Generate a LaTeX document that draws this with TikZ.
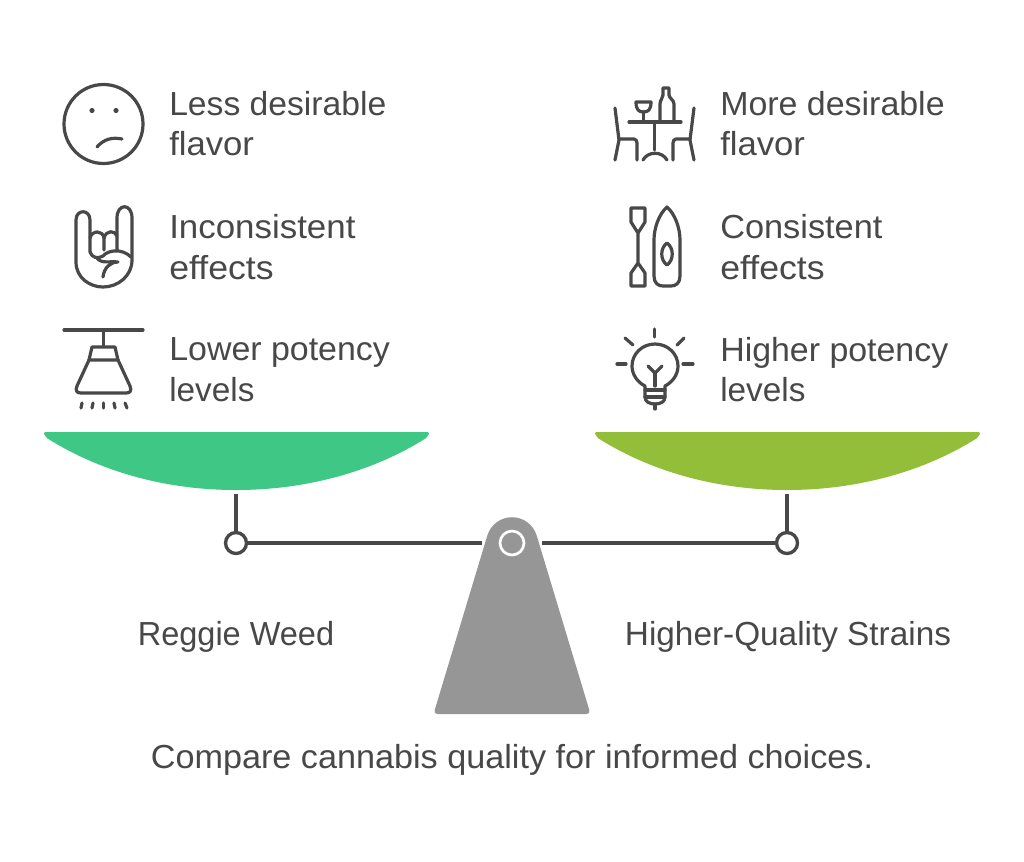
\documentclass[tikz,border=0pt]{standalone}
\usepackage{fontspec}
\setmainfont{Liberation Sans}
\definecolor{ink}{HTML}{484848}
\definecolor{leftpan}{HTML}{3EC785}
\definecolor{rightpan}{HTML}{93BE3A}
\definecolor{basegrey}{HTML}{969696}
\newcommand{\widen}[2]{\scalebox{#1}[1]{#2}}
\tikzset{
  px/.style={x=0.75pt,y=-0.75pt},
  lbl/.style={font=\fontsize{25pt}{30.6pt}\selectfont,text=ink,align=left,anchor=west,inner sep=0pt},
  captxt/.style={font=\fontsize{25pt}{30pt}\selectfont,text=ink,inner sep=0pt},
  ic/.style={draw=ink,line width=2.4pt,line cap=round,line join=round,fill=none},
  beam/.style={draw=ink,line width=2.5pt},
  pivot/.style={circle,draw=ink,line width=2.5pt,fill=white,minimum size=15.75pt,inner sep=0pt},
  panl/.style={fill=leftpan,draw=leftpan,line width=2.25pt,line join=round},
  panr/.style={fill=rightpan,draw=rightpan,line width=2.25pt,line join=round}
}
\begin{document}
\begin{tikzpicture}[px]
\useasboundingbox (0,0) rectangle (1024,861);
\fill[white] (0,0) rectangle (1024,861);
% labels
\node[lbl] (t1) at (169,123.5) {\widen{1.01}{Less desirable}\\\widen{1.04}{flavor}};
\node[lbl] (t2) at (169,247) {\widen{1.047}{Inconsistent}\\\widen{1.07}{effects}};
\node[lbl] (t3) at (169,369.5) {\widen{1.018}{Lower potency}\\levels};
\node[lbl] (t4) at (720,123.5) {\widen{1.018}{More desirable}\\\widen{1.04}{flavor}};
\node[lbl] (t5) at (720,247) {\widen{1.03}{Consistent}\\\widen{1.07}{effects}};
\node[lbl] (t6) at (720,369.5) {\widen{1.017}{Higher potency}\\levels};
\node[captxt] (c1) at (236,637) {\widen{0.975}{Reggie Weed}};
\node[captxt] (c2) at (788,637) {Higher-Quality Strains};
\node[captxt] (c3) at (512,760) {\widen{1.026}{Compare cannabis quality for informed choices.}};
% pans
\draw[panl] (45.5,433.5) -- (427.5,433.5) -- (425,437) .. controls (371,471) and (304.5,488.5) .. (236,488.5) .. controls (167.5,488.5) and (102,471) .. (48,437) -- cycle;
\draw[panr] (596.5,433.5) -- (978.5,433.5) -- (976,437) .. controls (922,471) and (855.5,488.5) .. (787,488.5) .. controls (718.5,488.5) and (653,471) .. (599,437) -- cycle;
% beam
\coordinate (lp) at (236,494);
\coordinate (rp) at (787,494);
\node[pivot] (pl) at (236,543) {};
\node[pivot] (pr) at (787,543) {};
\coordinate (bl) at (482,543);
\coordinate (br) at (542,543);
\draw[beam] (lp) -- (pl);
\draw[beam] (rp) -- (pr);
\draw[beam] (pl) -- (bl);
\draw[beam] (pr) -- (br);
% base
\fill[basegrey] [rounded corners=3pt] (487.3,535.6) -- (433.5,714) -- (590.5,714) [sharp corners] -- (536.7,535.6) .. controls (533.4,524.7) and (523.4,517.2) .. (512,517.2) .. controls (500.6,517.2) and (490.6,524.7) .. (487.3,535.6) -- cycle;
\node[circle,draw=white,line width=2pt,minimum size=18pt,inner sep=0pt] (hub) at (512,543) {};
\begin{scope}[ic]
% sad face
\draw (103.5,124) circle (39.5);
\fill[ink] (92,110.5) circle (2.6);
\fill[ink] (116,110.5) circle (2.6);
\draw (97,147) .. controls (104,139) and (112,137) .. (122,139);
% rock hand
\draw (90,252) -- (90,220) .. controls (90,209) and (76,209) .. (76,220) -- (76,262) .. controls (76,278) and (90,287) .. (103,287) .. controls (118,287) and (132,276) .. (132,260) -- (132,218) .. controls (132,203) and (117,203) .. (117,218) -- (117,250);
\draw (90,238) .. controls (92,230) and (103,230) .. (104,238) -- (104,250);
\draw (104,238) .. controls (106,230) and (115,230) .. (117,236);
\draw (90,252) .. controls (92,258) and (98,259) .. (103,256) .. controls (108,250) and (122,248) .. (131,257);
\draw (97,258) .. controls (101,264) and (110,261) .. (118,262) .. controls (110,262) and (104,268) .. (103,277);
% lamp
\draw (64,330) -- (143,330);
\draw (103.5,330) -- (103.5,346);
\draw (92,347) -- (115,347) -- (118,360) -- (89,360) -- cycle;
\draw (89,360) -- (77,386) .. controls (75,391) and (77,393) .. (81,393) -- (126,393) .. controls (130,393) and (132,391) .. (130,386) -- (118,360);
\draw (82,403) -- (81,408);
\draw (93,403) -- (92,408);
\draw (103.5,403) -- (103.5,408);
\draw (114,403) -- (115,408);
\draw (125,403) -- (127,408);
% table
\draw (615,108) -- (619,140) -- (615,160);
\draw (619,139) -- (634,139) .. controls (636,139) and (637,141) .. (637,143) -- (637,160);
\draw (694,108) -- (690,140) -- (694,160);
\draw (690,139) -- (676,139) .. controls (674,139) and (673,141) .. (673,143) -- (673,160);
\draw (629,122) -- (681,122);
\draw (654.5,122) -- (654.5,150);
\draw (643,160) .. controls (648,151) and (662,151) .. (667,160);
\draw (636,102) -- (651,102) .. controls (651,110) and (648,112) .. (643.5,112) .. controls (639,112) and (636,110) .. (636,102) -- cycle;
\draw (643.5,112) -- (643.5,122);
\draw (660,122) -- (660,104) .. controls (660,100) and (663,98) .. (663,95) -- (663,88) -- (669,88) -- (669,95) .. controls (669,98) and (674,100) .. (674,104) -- (674,122);
% paddle
\draw (631,208) -- (645,208) -- (645,222) -- (638,233) -- (638,263) -- (645,273) -- (645,286) -- (631,286) -- (631,273) -- (638,263) -- (638,233) -- (631,222) -- cycle;
% boat
\draw (667,207) .. controls (675,214) and (680,228) .. (680,240) -- (680,276) .. controls (680,283) and (676,286) .. (671,286) -- (663,286) .. controls (658,286) and (654,283) .. (654,276) -- (654,240) .. controls (654,228) and (659,214) .. (667,207) -- cycle;
\draw (667,243) .. controls (674,248) and (674,260) .. (667,265) .. controls (660,260) and (660,248) .. (667,243) -- cycle;
% bulb
\draw (654.5,329) -- (654.5,337);
\draw (625,338) -- (633,345);
\draw (684,338) -- (677,345);
\draw (617,364) -- (626,364);
\draw (683,364) -- (693,364);
\draw (645,386) .. controls (637,382) and (632,374) .. (632,366) .. controls (632,354) and (642,344) .. (655,344) .. controls (668,344) and (678,354) .. (678,366) .. controls (678,374) and (673,382) .. (665,386) -- (665,397) .. controls (665,402) and (660,404) .. (655,404) .. controls (650,404) and (645,402) .. (645,397) -- cycle;
\draw (645,390) -- (665,390);
\draw (645,397) -- (665,397);
\draw (655,404) -- (655,409);
\draw (655,386) -- (655,373);
\draw (648,366) -- (655,373) -- (662,366);
\end{scope}
\end{tikzpicture}
\end{document}
